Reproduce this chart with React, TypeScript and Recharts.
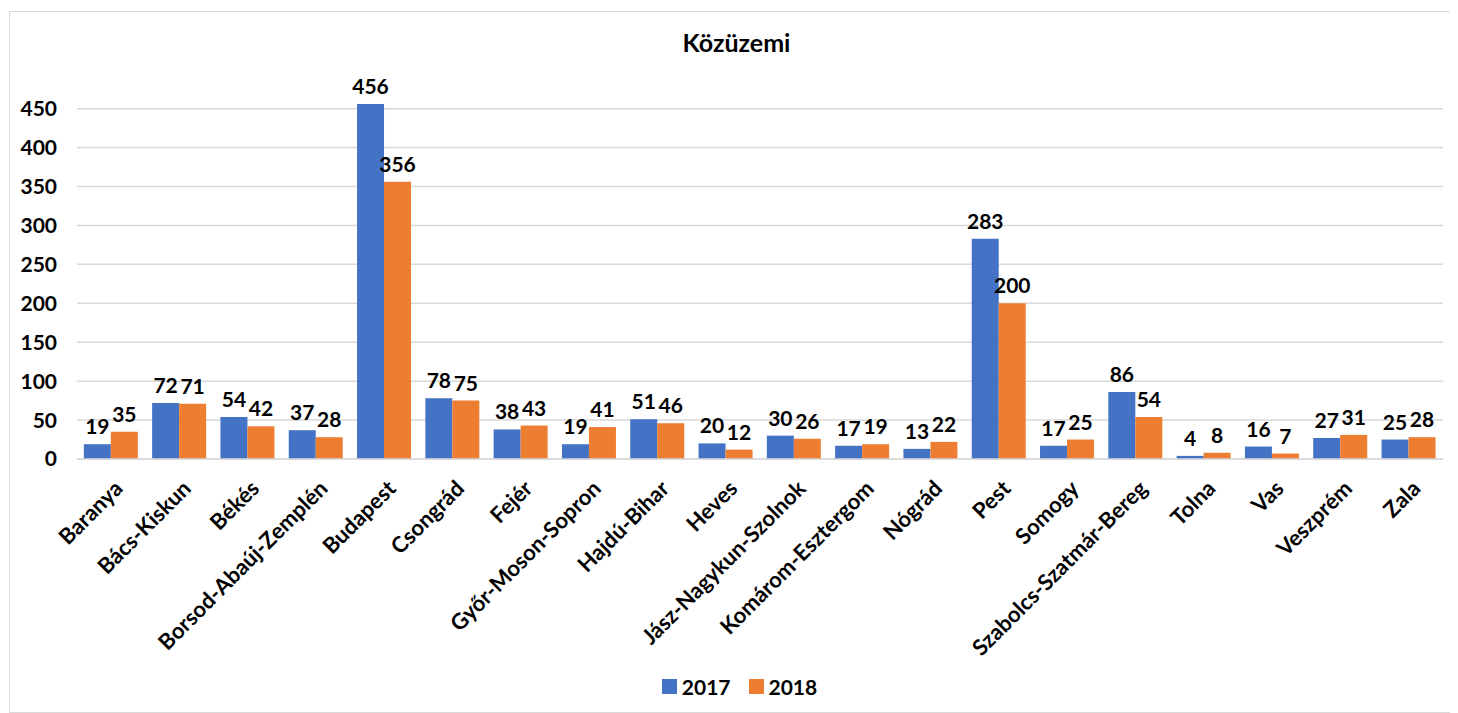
import { BarChart, Bar, XAxis, YAxis, CartesianGrid, Legend, LabelList } from "recharts";

const megyek = [
  "Baranya", "Bács-Kiskun", "Békés", "Borsod-Abaúj-Zemplén", "Budapest", "Csongrád", "Fejér",
  "Győr-Moson-Sopron", "Hajdú-Bihar", "Heves", "Jász-Nagykun-Szolnok", "Komárom-Esztergom",
  "Nógrád", "Pest", "Somogy", "Szabolcs-Szatmár-Bereg", "Tolna", "Vas", "Veszprém", "Zala",
];
const ev2017 = [19, 72, 54, 37, 456, 78, 38, 19, 51, 20, 30, 17, 13, 283, 17, 86, 4, 16, 27, 25];
const ev2018 = [35, 71, 42, 28, 356, 75, 43, 41, 46, 12, 26, 19, 22, 200, 25, 54, 8, 7, 31, 28];
const yTicks = [0, 50, 100, 150, 200, 250, 300, 350, 400, 450];

const data = megyek.map((m, i) => ({ name: m, a: ev2017[i], b: ev2018[i] }));

const FONT = "Lato, 'Open Sans', sans-serif";
const FS = 21;

const XTick = (props: any) => {
  const { x, y, payload } = props;
  return (
    <g transform={`translate(${x + 8},${y + 18}) rotate(-45)`}>
      <text x={0} y={0} dy={7} textAnchor="end" fontFamily={FONT} fontWeight={700} fontSize={22} fill="#000">
        {payload.value}
      </text>
    </g>
  );
};

const LegendBox = (props: any) => {
  const items = props.payload || [];
  return (
    <div style={{ display: "flex", justifyContent: "center", paddingLeft: 19, fontFamily: FONT, fontWeight: 700, fontSize: FS }}>
      {items.map((it: any, i: number) => (
        <div key={it.value} style={{ display: "flex", alignItems: "center", marginRight: i === 0 ? 18 : 0 }}>
          <span style={{ display: "inline-block", width: 15, height: 15, background: it.color, marginRight: 5 }} />
          <span style={{ color: "#000" }}>{it.value}</span>
        </div>
      ))}
    </div>
  );
};

export default function App() {
  return (
    <div style={{ position: "relative", marginTop: 3, marginLeft: 1, width: 1445, height: 700, border: "1px solid #d9d9d9", fontFamily: FONT }}>
      <div style={{ position: "absolute", top: 15, left: 4, width: "100%", textAlign: "center", fontWeight: 700, fontSize: 25, color: "#000" }}>
        Közüzemi
      </div>
      <BarChart
        width={1445}
        height={700}
        data={data}
        margin={{ top: 92, right: 12, left: 7, bottom: 13 }}
        barCategoryGap="10%"
        barGap={0}
      >
        <CartesianGrid vertical={false} stroke="#d9d9d9" strokeWidth={1.5} horizontalValues={yTicks} />
        <XAxis
          dataKey="name"
          interval={0}
          tick={<XTick />}
          tickLine={false}
          axisLine={{ stroke: "#d9d9d9", strokeWidth: 1.5 }}
          height={215}
        />
        <YAxis
          width={60}
          domain={[0, 456]}
          ticks={yTicks}
          tickLine={false}
          axisLine={false}
          tickMargin={14}
          tick={{ fontFamily: FONT, fontWeight: 700, fontSize: FS, fill: "#000" }}
        />
        <Legend verticalAlign="bottom" align="center" content={<LegendBox />} />
        <Bar dataKey="a" name="2017" fill="#4472C4" isAnimationActive={false}>
          <LabelList dataKey="a" position="top" offset={10} style={{ fontFamily: FONT, fontWeight: 700, fontSize: FS, fill: "#000" }} />
        </Bar>
        <Bar dataKey="b" name="2018" fill="#ED7D31" isAnimationActive={false}>
          <LabelList dataKey="b" position="top" offset={10} style={{ fontFamily: FONT, fontWeight: 700, fontSize: FS, fill: "#000" }} />
        </Bar>
      </BarChart>
    </div>
  );
}
